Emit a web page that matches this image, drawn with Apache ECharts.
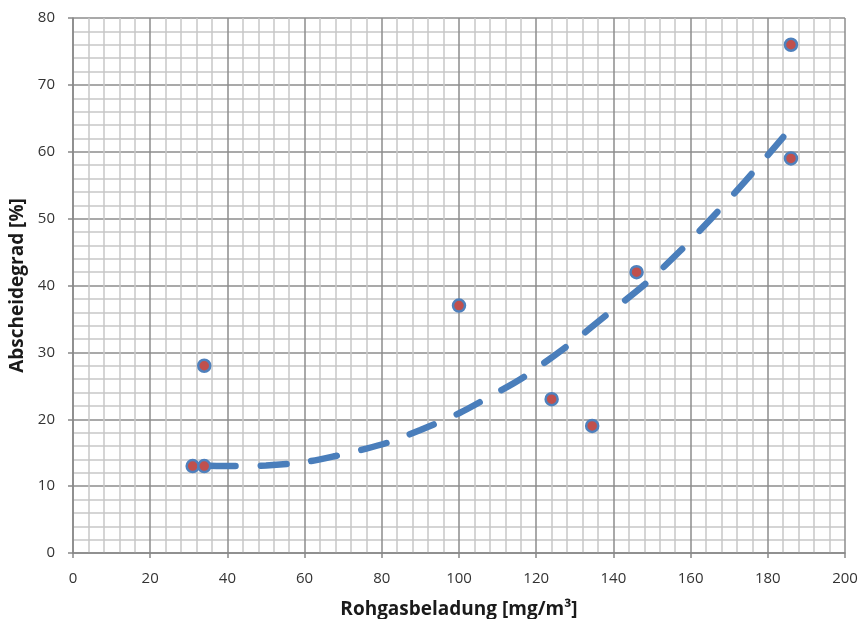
<!DOCTYPE html>
<html><head><meta charset="utf-8">
<script src="https://cdn.jsdelivr.net/npm/echarts@6/dist/echarts.min.js"></script>
<style>html,body{margin:0;padding:0;background:#fff}#c{width:861px;height:619px}</style>
</head><body><div id="c"></div>
<script>
var xName = 'Rohgasbeladung [mg/m³]';
var yName = 'Abscheidegrad [%]';
var measX = [31, 34, 34, 100, 124, 134.5, 146, 186, 186];
var measY = [13, 13, 28, 37, 23, 19, 42, 76, 59];
var trendX = [31, 41, 50, 60, 68, 76, 82, 90, 100, 108, 117, 130, 138, 148, 157, 165, 174, 184];
var trendY = [13.1, 13, 13.1, 13.6, 14.5, 15.6, 16.6, 18.4, 20.9, 23.4, 26.4, 31.8, 35.5, 40.1, 45, 49.8, 55.5, 62.2];

var font = 'Open Sans';
var chart = echarts.init(document.getElementById('c'));
chart.setOption({
  animation: false,
  grid: {left: 73, right: 16, top: 18, bottom: 66, show: false, containLabel: false, outerBoundsMode: 'none'},
  xAxis: {
    type: 'value', min: 0, max: 200, interval: 20,
    name: xName, nameLocation: 'middle', nameGap: 47,
    nameTextStyle: {fontFamily: font, fontSize: 19, fontWeight: 'bold', color: '#1a1a1a'},
    axisLine: {show: true, lineStyle: {color: '#888', width: 1.5}},
    axisTick: {show: true, length: 5, lineStyle: {color: '#888', width: 1.5}},
    axisLabel: {fontFamily: font, fontSize: 15, color: '#333', margin: 18},
    splitLine: {show: true, lineStyle: {color: '#8c8c8c', width: 1.5}},
    minorTick: {show: false, splitNumber: 5},
    minorSplitLine: {show: true, lineStyle: {color: '#c8c8c8', width: 1.5}}
  },
  yAxis: {
    type: 'value', min: 0, max: 80, interval: 10,
    name: yName, nameLocation: 'middle', nameGap: 44,
    nameTextStyle: {fontFamily: font, fontSize: 19, fontWeight: 'bold', color: '#1a1a1a'},
    axisLine: {show: true, lineStyle: {color: '#888', width: 1.5}},
    axisTick: {show: true, length: 5, lineStyle: {color: '#888', width: 1.5}},
    axisLabel: {fontFamily: font, fontSize: 15, color: '#333', margin: 18},
    splitLine: {show: true, lineStyle: {color: '#8c8c8c', width: 1.5}},
    minorTick: {show: false, splitNumber: 5},
    minorSplitLine: {show: true, lineStyle: {color: '#c8c8c8', width: 1.5}}
  },
  series: [
    {
      type: 'line', smooth: 0.3, showSymbol: false, z: 3,
      data: trendX.map(function (x, i) { return [x, trendY[i]]; }),
      lineStyle: {color: '#4a7ebb', width: 6.5, type: [26, 25], dashOffset: 34, cap: 'round'}
    },
    {
      type: 'scatter', symbolSize: 12, z: 4,
      data: measX.map(function (x, i) { return [x, measY[i]]; }),
      itemStyle: {color: '#c0504d', borderColor: '#4f81bd', borderWidth: 2.5, opacity: 1}
    }
  ]
});
</script></body></html>
